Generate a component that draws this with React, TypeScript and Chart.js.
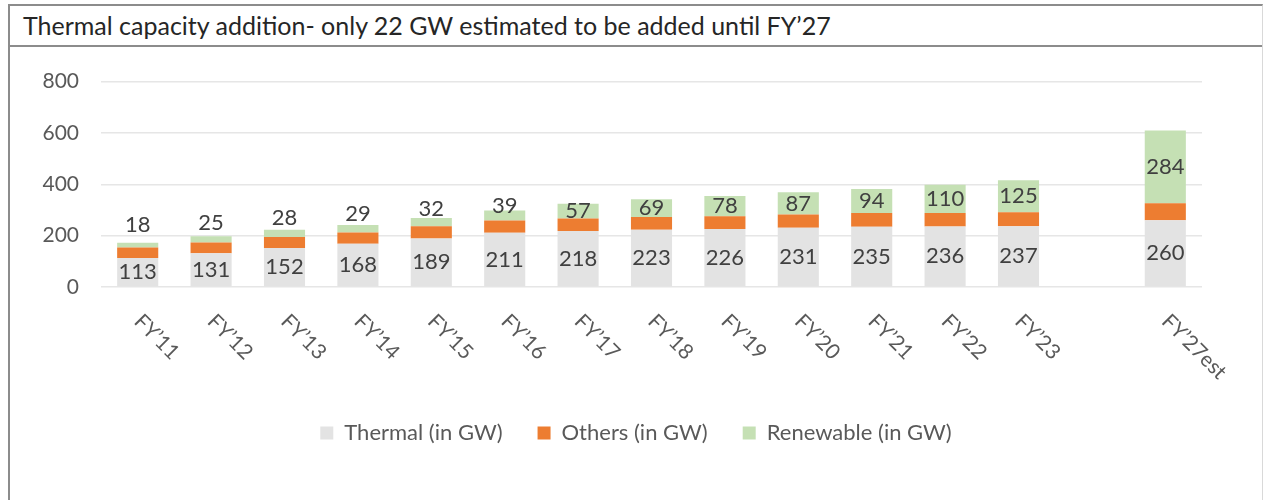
import React, { useEffect, useRef } from "react";
import { Chart, registerables } from "chart.js";
Chart.register(...registerables);

const categories = ["FY’11", "FY’12", "FY’13", "FY’14", "FY’15", "FY’16", "FY’17", "FY’18", "FY’19", "FY’20", "FY’21", "FY’22", "FY’23", "", "FY’27est"];
const thermal = [113, 131, 152, 168, 189, 211, 218, 223, 226, 231, 235, 236, 237, null, 260];
const others = [41, 42, 43, 44, 48, 48, 49, 50, 50, 51, 53, 52, 54, null, 66];
const renewable = [18, 25, 28, 29, 32, 39, 57, 69, 78, 87, 94, 110, 125, null, 284];
const seriesNames = ["Thermal (in GW)", "Others (in GW)", "Renewable (in GW)"];
const seriesColors = ["#e3e3e3", "#ed7d31", "#c5e0b4"];
const yMax = 800;
const yStep = 200;

const FONT = "Lato, 'Open Sans', sans-serif";

export default function App() {
  const ref = useRef<HTMLCanvasElement>(null);
  useEffect(() => {
    const labelPlugin = {
      id: "customLabels",
      afterDatasetsDraw(chart: any) {
        const ctx = chart.ctx;
        ctx.save();
        ctx.font = `22px ${FONT}`;
        ctx.fillStyle = "#404040";
        ctx.textAlign = "center";
        ctx.textBaseline = "middle";
        [0, 2].forEach((di) => {
          const meta = chart.getDatasetMeta(di);
          const data = chart.data.datasets[di].data;
          meta.data.forEach((el: any, i: number) => {
            const v = data[i];
            if (v == null) return;
            const { x, y, base } = el.getProps(["x", "y", "base"], true);
            const h = Math.abs(base - y);
            let cy = (y + base) / 2;
            if (di === 2 && h < 12) cy = y - (29 - 2.4 * h);
            ctx.fillText(String(v), x, cy);
          });
        });
        const xs = chart.scales.x;
        ctx.font = `21px ${FONT}`;
        ctx.fillStyle = "#595959";
        ctx.textAlign = "left";
        ctx.textBaseline = "middle";
        categories.forEach((c, i) => {
          if (!c) return;
          const px = xs.getPixelForValue(i);
          ctx.save();
          ctx.translate(px, xs.top + 31);
          ctx.rotate(Math.PI / 4);
          ctx.fillText(c, 0, 0);
          ctx.restore();
        });
        ctx.restore();
      },
    };
    const chart = new Chart(ref.current as HTMLCanvasElement, {
      type: "bar",
      data: {
        labels: categories,
        datasets: [thermal, others, renewable].map((d, i) => ({
          label: seriesNames[i],
          data: d,
          backgroundColor: seriesColors[i],
          borderWidth: 0,
          barPercentage: 0.56,
          categoryPercentage: 1,
        })),
      },
      options: {
        animation: false,
        responsive: false,
        maintainAspectRatio: false,
        layout: { padding: { left: 0, right: 0, top: 28, bottom: 46 } },
        plugins: {
          tooltip: { enabled: false },
          legend: {
            position: "bottom",
            labels: {
              boxWidth: 13,
              boxHeight: 13,
              padding: 35,
              color: "#595959",
              font: { family: FONT, size: 22 },
            },
          },
        },
        scales: {
          x: {
            stacked: true,
            grid: { display: false },
            border: { display: false },
            ticks: { display: false },
            afterFit: (s: any) => { s.height = 100; },
          },
          y: {
            stacked: true,
            min: 0,
            max: yMax,
            ticks: { stepSize: yStep, color: "#595959", padding: 22, font: { family: FONT, size: 21 } },
            grid: { color: "#e6e6e6", lineWidth: 1.5, drawTicks: false },
            border: { display: false },
            afterFit: (s: any) => { s.width = 91; },
          },
          y2: {
            display: true,
            position: "right",
            grid: { display: false },
            border: { display: false },
            ticks: { display: false },
            afterFit: (s: any) => { s.width = 60; },
          },
        },
      },
      plugins: [labelPlugin],
    } as any);
    return () => chart.destroy();
  }, []);

  return (
    <div
      style={{
        position: "absolute",
        left: 8,
        top: 4,
        width: 1252,
        height: 520,
        borderLeft: "2px solid #8c8c8c",
        borderTop: "2px solid #8c8c8c",
        borderRight: "1px solid #d9d9d9",
        background: "#fff",
      }}
    >
      <div
        style={{
          height: 39,
          lineHeight: "39px",
          borderBottom: "2px solid #8c8c8c",
          paddingLeft: 13,
          fontFamily: FONT,
          fontSize: 25,
          color: "#262626",
          whiteSpace: "nowrap",
        }}
      >
        Thermal capacity addition- only 22 GW estimated to be added until FY’27
      </div>
      <canvas ref={ref} width={1252} height={453} style={{ display: "block" }} />
    </div>
  );
}
